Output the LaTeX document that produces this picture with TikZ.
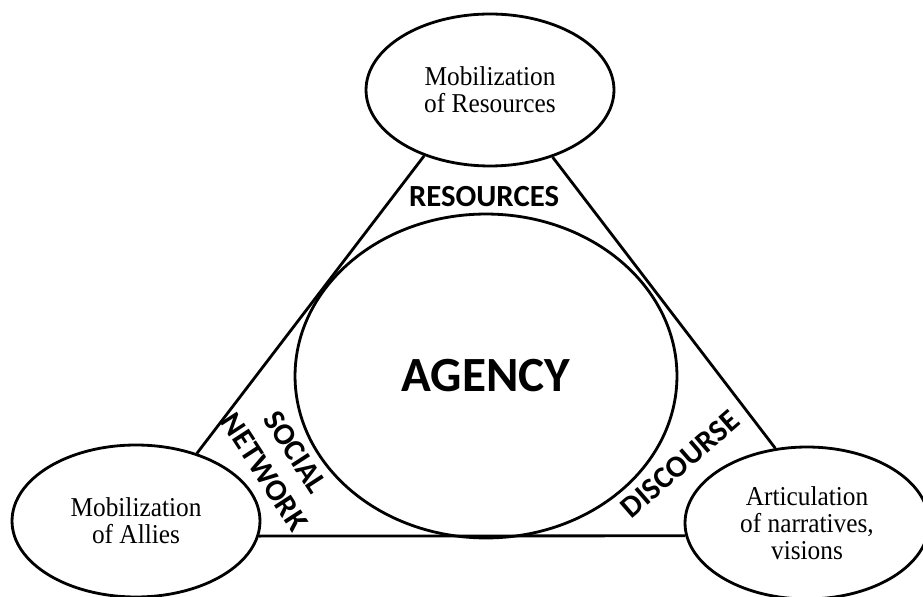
\documentclass[tikz,border=0pt]{standalone}
\usepackage{fontspec}
\setmainfont{Liberation Serif}[FakeStretch=0.93]
\newfontfamily\labelfont{Carlito}
\usetikzlibrary{shapes.geometric}
\tikzset{
  field/.style={draw,ellipse,line width=1.6pt,inner sep=0pt,align=center,
    minimum width=4.96cm,minimum height=3.04cm,font=\fontsize{15.5}{15.5}\selectfont},
  tag/.style={font=\labelfont\bfseries\fontsize{17.5}{21}\selectfont,align=center,inner sep=0pt}
}

\begin{document}
\begin{tikzpicture}[x=0.02cm,y=-0.02cm,line width=1.6pt]
  \useasboundingbox (0,0) rectangle (923,597);
  \node[field] (R) at (490,90) {Mobilization\\of Resources};
  \node[field] (L) at (136,521) {Mobilization\\of Allies};
  \node[field,minimum width=4.88cm] (N) at (807,523) {Articulation\\of narratives,\\visions};
  \node[draw,ellipse,minimum width=7.64cm,minimum height=6.48cm,inner sep=0pt,
    font=\labelfont\bfseries\fontsize{28}{34}\selectfont] (A) at (486,376) {AGENCY};

  \node[tag] (res) at (484,197) {RESOURCES};
  \node[tag,rotate=-57] (soc) at (280,462) {SOCIAL\\NETWORK};
  \node[tag,rotate=41] (dis) at (680,464) {DISCOURSE};

  \draw (R.225) -- (L.48);
  \draw (R.313) -- (N.113);
  \draw (L.-7) -- (N.186);
\end{tikzpicture}
\end{document}
